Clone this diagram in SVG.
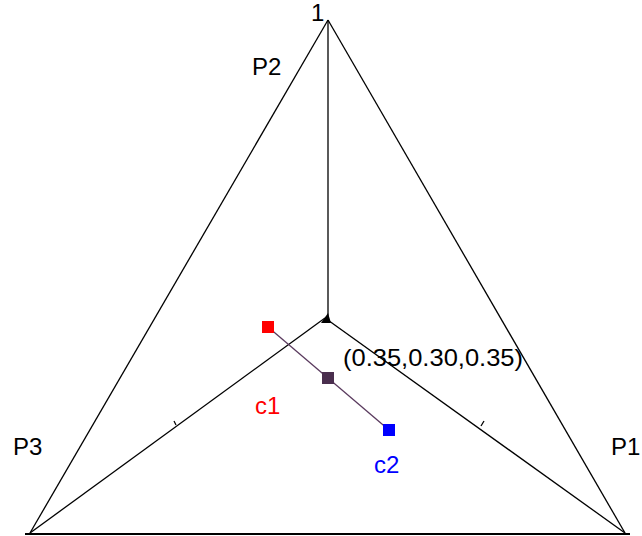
<svg xmlns="http://www.w3.org/2000/svg" width="642" height="536" viewBox="0 0 642 536">
<style>
.ln{stroke:#000;stroke-width:1.3;fill:none}
.lbl{font-family:"Liberation Sans",Arial,sans-serif;font-size:24px;fill:#000}
.mk{stroke:none}
</style>
<rect width="642" height="536" fill="#fff"/>
<g id="connectors">
<line class="ln" x1="328" y1="20" x2="30" y2="533"/>
<line class="ln" x1="328" y1="20" x2="625" y2="533"/>
<line x1="25" y1="534" x2="630" y2="534" stroke="#000" stroke-width="2.2"/>
<line class="ln" x1="328" y1="20" x2="328" y2="318"/>
<line class="ln" x1="325" y1="318" x2="30" y2="533"/>
<line class="ln" x1="325" y1="318" x2="625" y2="533"/>
<line class="ln" x1="176" y1="425" x2="174" y2="421"/>
<line class="ln" x1="481" y1="426" x2="484" y2="421"/>
<polygon points="321,323 328,313 331,323" fill="#000"/>
<line x1="268" y1="327" x2="389" y2="430" stroke="#5a3a5e" stroke-width="1.3"/>
</g>
<g id="c1-point"><rect class="mk" x="262" y="321" width="12" height="12" fill="#ff0000"/></g>
<g id="mid-point"><rect class="mk" x="322" y="372" width="12" height="12" fill="#4a2e4e"/></g>
<g id="c2-point"><rect class="mk" x="383" y="424" width="12" height="12" fill="#0000ff"/></g>
<g id="labels">
<text class="lbl" x="311" y="21" font-size="15">1</text>
<text class="lbl" x="252" y="75">P2</text>
<text class="lbl" x="13" y="455">P3</text>
<text class="lbl" x="611" y="455">P1</text>
<text class="lbl" x="343" y="366" font-size="22" textLength="180" lengthAdjust="spacingAndGlyphs">(0.35,0.30,0.35)</text>
<text class="lbl" x="255" y="414" style="fill:#ff0000">c1</text>
<text class="lbl" x="374" y="473" style="fill:#0000ff">c2</text>
</g>
</svg>
